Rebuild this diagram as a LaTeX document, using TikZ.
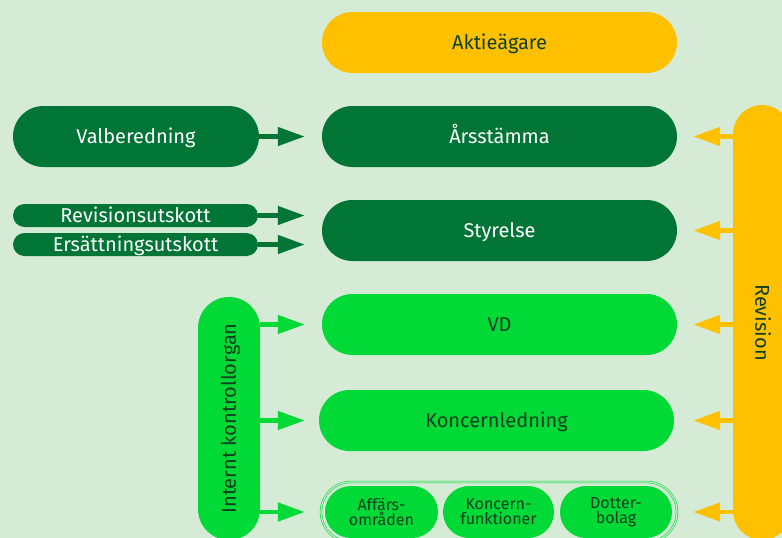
\documentclass[tikz,border=0pt]{standalone}
\usepackage{fontspec}
\setmainfont{Fira Sans}
\usetikzlibrary{arrows.meta,positioning}
\definecolor{bg}{HTML}{D5EBD6}
\definecolor{dgreen}{HTML}{007535}
\definecolor{lgreen}{HTML}{00D936}
\definecolor{gul}{HTML}{FFC000}
\definecolor{mork}{HTML}{0F3F1E}
\tikzset{every node/.append style={inner sep=0pt, align=center}}
\tikzset{stor/.style={font=\fontsize{20}{22}\selectfont, text height=13.5pt, text depth=0pt}}
\tikzset{box/.style={rectangle, rounded corners=30.5pt, minimum width=355pt, minimum height=61pt, stor}}
\tikzset{morkbox/.style={box, fill=dgreen, text=white}}
\tikzset{ljusbox/.style={box, fill=lgreen, text=mork}}
\tikzset{smal/.style={rectangle, rounded corners=11.5pt, fill=dgreen, text=white, minimum width=245pt, minimum height=23pt, stor}}
\tikzset{liten/.style={rectangle, rounded corners=26pt, fill=lgreen, text=mork, minimum height=52pt, font=\fontsize{16}{15}\selectfont}}
\tikzset{pil/.style={line width=4.5pt, -{Triangle[length=27pt,width=18pt]}}}

\begin{document}
\begin{tikzpicture}[x=1pt,y=-1pt]
  \fill[bg] (0,0) rectangle (782,538);
  \useasboundingbox (0,0) rectangle (782,538);
  \clip (0,0) rectangle (782,538);

  \node[box, fill=gul, text=mork] (akt) at (499.5,42.5) {Aktieägare};
  \node[morkbox] (arss) at (499.5,136.5) {Årsstämma};
  \node[morkbox] (sty) at (499.5,230.5) {Styrelse};
  \node[ljusbox] (vd) at (499.5,324.5) {VD};
  \node[ljusbox] (kl) at (496.5,420.5) {Koncernledning};

  \node[rectangle, rounded corners=30pt, draw=lgreen, line width=0.6pt, double=bg, double distance=1.2pt,
        minimum width=356pt, minimum height=60pt] (grp) at (499,512) {};
  \node[liten, minimum width=113pt] (aff) at (381.5,512) {Affärs-\\områden};
  \node[liten, minimum width=111pt] (kf) at (498.5,512) {Koncern-\\funktioner};
  \node[liten, minimum width=112pt] (dot) at (616,512) {Dotter-\\bolag};

  \node[morkbox, minimum width=246pt] (val) at (136,136.5) {Valberedning};
  \node[smal] (rev) at (135.5,215.5) {Revisionsutskott};
  \node[smal] (ers) at (135.5,244.5) {Ersättningsutskott};

  % staplarna
  \node[rectangle, rounded corners=31pt, fill=lgreen, minimum width=62pt, minimum height=243pt] (ikt) at (229,418.5) {};
  \node[rotate=90, text=mork, stor] (iktt) at (ikt) {Internt kontrollorgan};
  \node[rectangle, rounded corners=29pt, fill=gul, minimum width=58pt, minimum height=435pt] (revi) at (762,322.5) {};
  \node[rotate=-90, text=mork, stor] (revit) at (revi) {Revision};

  \draw[pil, dgreen, shorten >=17pt] (val.east) -- (arss.west);
  \draw[pil, dgreen, shorten >=17pt] (rev.east) -- (rev.east -| sty.west);
  \draw[pil, dgreen, shorten >=17pt] (ers.east) -- (ers.east -| sty.west);

  \foreach \n in {vd, kl, grp}{
    \draw[pil, lgreen] (ikt.east |- \n) -- ([xshift=-17pt]vd.west |- \n);
  }
  \foreach \n in {arss, sty, vd, kl, grp}{
    \draw[pil, gul] (revi.west |- \n) -- ([xshift=16pt]vd.east |- \n);
  }
\end{tikzpicture}
\end{document}
